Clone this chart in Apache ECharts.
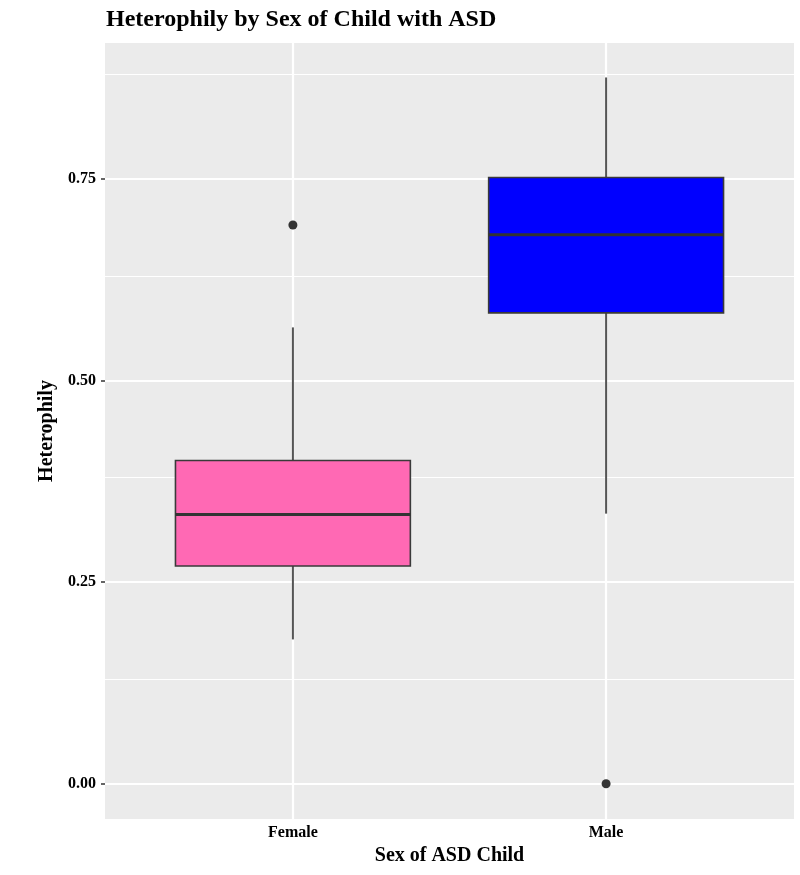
<!DOCTYPE html>
<html>
<head>
<meta charset="utf-8">
<title>Heterophily by Sex of Child with ASD</title>
<script src="https://cdn.jsdelivr.net/npm/echarts@6/dist/echarts.min.js"></script>
<style>
	html, body { margin: 0; padding: 0; background: #fff; }
	#chart { width: 800px; height: 875px; }
</style>
</head>
<body>
<div id="chart"></div>
<script>
// 数据
var categories = ['Female', 'Male'];
var whiskerLow = [0.179, 0.335];
var q1 = [0.270, 0.584];
var median = [0.334, 0.681];
var q3 = [0.401, 0.752];
var whiskerHigh = [0.566, 0.876];
var outlierGroup = [1, 2];
var outlierValue = [0.693, 0];
var yTicks = [0, 0.25, 0.5, 0.75];
var yMinor = [0.125, 0.375, 0.625, 0.875];
var xTicks = [1, 2];

var boxColors = ['#FF69B4', '#0000FF'];
var FONT = '"Liberation Serif", "DejaVu Serif", serif';

// 箱线图数据
var boxData = categories.map(function(c, i){
	return [i + 1, whiskerLow[i], q1[i], median[i], q3[i], whiskerHigh[i]];
});
var outlierData = outlierGroup.map(function(g, i){
	return [g, outlierValue[i]];
});

// 网格线
var gridLines = [];
yTicks.forEach(function(v){
	gridLines.push({yAxis: v, lineStyle: {color: '#fff', width: 2.2, type: 'solid'}});
});
yMinor.forEach(function(v){
	gridLines.push({yAxis: v, lineStyle: {color: '#fff', width: 1.1, type: 'solid'}});
});
xTicks.forEach(function(v){
	gridLines.push({xAxis: v, lineStyle: {color: '#fff', width: 2.2, type: 'solid'}});
});

var renderBox = function(params, api){
	var x = api.value(0);
	var low = api.coord([x, api.value(1)]);
	var b1 = api.coord([x, api.value(2)]);
	var med = api.coord([x, api.value(3)]);
	var b3 = api.coord([x, api.value(4)]);
	var high = api.coord([x, api.value(5)]);
	var halfW = api.size([0.75, 0])[0] / 2;
	var cx = low[0];
	return {
		type: 'group',
		children: [
			{type: 'line', shape: {x1: cx, y1: b3[1], x2: cx, y2: high[1]},
				style: {stroke: '#555', lineWidth: 2}},
			{type: 'line', shape: {x1: cx, y1: b1[1], x2: cx, y2: low[1]},
				style: {stroke: '#555', lineWidth: 2}},
			{type: 'rect', shape: {x: cx - halfW, y: b3[1], width: halfW * 2, height: b1[1] - b3[1]},
				style: {fill: boxColors[params.dataIndex], stroke: '#3a3a3a', lineWidth: 1.6}},
			{type: 'line', shape: {x1: cx - halfW, y1: med[1], x2: cx + halfW, y2: med[1]},
				style: {stroke: '#333', lineWidth: 3}}
		]
	};
};

var initChart = function(){
	var myChart = echarts.init(document.getElementById('chart'));
	var option = {
		backgroundColor: '#fff',
		animation: false,
		title: {
			text: 'Heterophily by Sex of Child with ASD',
			left: 101,
			top: 3,
			textStyle: {fontFamily: FONT, fontSize: 24, fontWeight: 'bold', color: '#000'}
		},
		grid: {
			left: 105, right: 6, top: 43, bottom: 56,
			show: true, backgroundColor: '#EBEBEB', borderWidth: 0
		},
		xAxis: {
			type: 'value',
			min: 0.4,
			max: 2.6,
			name: 'Sex of ASD Child',
			nameLocation: 'middle',
			nameGap: 26,
			nameTextStyle: {fontFamily: FONT, fontSize: 20, fontWeight: 'bold', color: '#000'},
			axisLine: {show: false},
			axisTick: {show: true, length: 4, customValues: xTicks, lineStyle: {color: '#333', width: 1.5}},
			axisLabel: {
				customValues: xTicks,
				margin: 6,
				fontFamily: FONT, fontSize: 16, fontWeight: 'bold', color: '#000',
				formatter: function(v){ return categories[Math.round(v) - 1] || ''; }
			},
			splitLine: {show: false}
		},
		yAxis: {
			type: 'value',
			min: -0.04375,
			max: 0.91875,
			name: 'Heterophily',
			nameLocation: 'middle',
			nameGap: 47,
			nameTextStyle: {fontFamily: FONT, fontSize: 20, fontWeight: 'bold', color: '#000'},
			axisLine: {show: false},
			axisTick: {show: true, length: 4, customValues: yTicks, lineStyle: {color: '#333', width: 1.5}},
			axisLabel: {
				customValues: yTicks,
				margin: 9,
				fontFamily: FONT, fontSize: 16, fontWeight: 'bold', color: '#000',
				formatter: function(v){ return v.toFixed(2); }
			},
			splitLine: {show: false}
		},
		series: [
			{
				type: 'scatter',
				data: [],
				z: 1,
				silent: true,
				markLine: {
					silent: true,
					z: 1,
					symbol: 'none',
					label: {show: false},
					emphasis: {disabled: true},
					data: gridLines
				}
			},
			{
				type: 'custom',
				z: 3,
				renderItem: renderBox,
				encode: {x: 0, y: [1, 2, 3, 4, 5]},
				data: boxData
			},
			{
				type: 'scatter',
				z: 4,
				symbolSize: 9,
				itemStyle: {color: '#333', opacity: 1},
				data: outlierData
			}
		]
	};
	myChart.setOption(option);
};

window.onload = function(){
	initChart();
};
</script>
</body>
</html>
